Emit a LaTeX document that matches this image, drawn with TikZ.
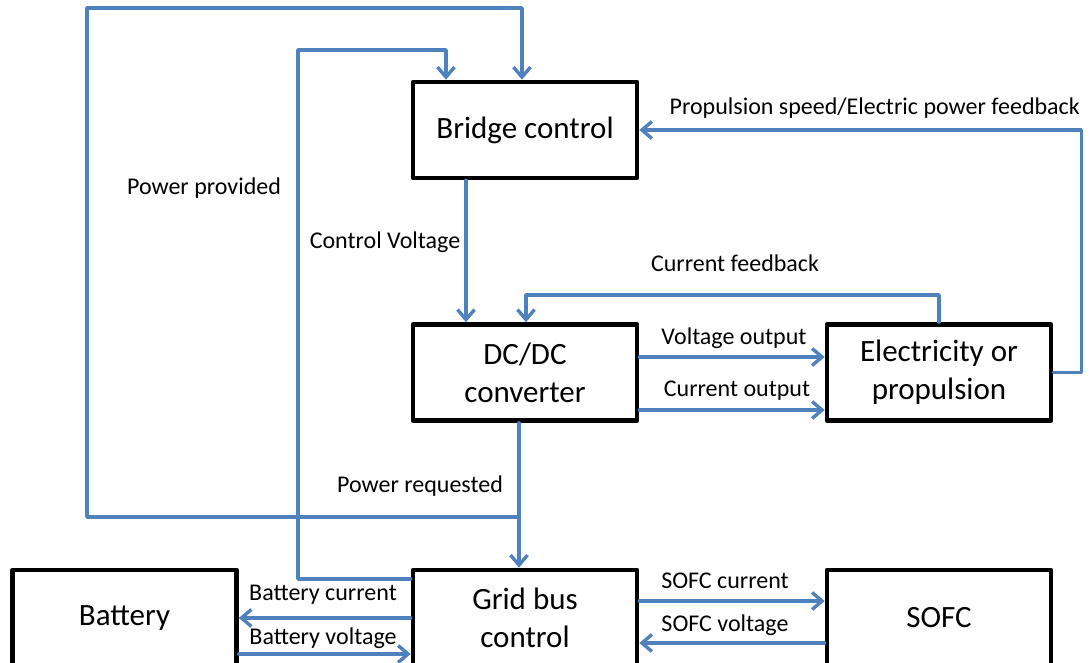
\documentclass[tikz,border=0pt]{standalone}
\usepackage{fontspec}
\setmainfont{Carlito}
\usetikzlibrary{arrows.meta}

\definecolor{flowblue}{RGB}{79,129,189}

\begin{document}
\begin{tikzpicture}[x=1pt,y=-1pt,line cap=round,line join=round,
    block/.style={draw=black,line width=4.6pt,minimum width=224pt,minimum height=96pt,
        inner sep=0pt,align=center,font=\fontsize{31}{38}\selectfont},
    flow/.style={draw=flowblue,line width=3.4pt,-{Straight Barb[length=10pt,width=17pt]}},
    tag/.style={inner sep=0pt,font=\fontsize{24}{29}\selectfont}]
    \useasboundingbox (0,0) rectangle (1090,663);

    % Bloques
    \node[block] (bridge) at (525,130) {Bridge control};
    \node[block] (dcdc) at (525,372.5) {DC/DC\\converter};
    \node[block] (elec) at (939,372.5) {Electricity or\\propulsion};
    \node[block] (grid) at (525,618) {Grid bus\\control};
    \node[block] (battery) at (124.5,618) {Battery};
    \node[block] (sofc) at (939,618) {SOFC};

    % Puntos de los lazos
    \coordinate (tap) at (519,517);
    \coordinate (outerTL) at (87,8);
    \coordinate (innerTL) at (298,50);
    \coordinate (cfb) at (526,295);

    % Lazos de realimentacion
    \draw[flow] (tap) -| (outerTL) -| ([xshift=-3pt]bridge.north);
    \draw[flow] ([yshift=39pt]grid.west) -| (innerTL) -| ([xshift=-79pt]bridge.north);
    \draw[flow] (elec.east) -- ++(28,0) |- (bridge.east);
    \draw[flow] (elec.north) |- (cfb) -- (cfb |- dcdc.north);

    % Senales
    \draw[flow] ([xshift=-59pt]bridge.south) -- ([xshift=-59pt]dcdc.north);
    \draw[flow] ([xshift=-6pt]dcdc.south) -- ([xshift=-6pt]grid.north);
    \draw[flow] ([yshift=15.5pt]dcdc.east) -- ([yshift=15.5pt]elec.west);
    \draw[flow] ([yshift=-37.5pt]dcdc.east) -- ([yshift=-37.5pt]elec.west);
    \draw[flow] (grid.west) -- (grid.west -| battery.east);
    \draw[flow] ([yshift=-36pt]battery.east) -- ([yshift=-36pt]grid.west);
    \draw[flow] ([yshift=17pt]grid.east) -- ([yshift=17pt]sofc.west);
    \draw[flow] ([yshift=-25pt]sofc.west) -- ([yshift=-25pt]grid.east);

    % Etiquetas
    \node[tag] (lpp) at (204,188) {Power provided};
    \node[tag] (lcv) at (385,242) {Control Voltage};
    \node[tag] (lcf) at (735,263) {Current feedback};
    \node[tag,anchor=east] (lps) at (1080,108) {Propulsion speed/Electric power feedback};
    \node[tag] (lvo) at (734,338) {Voltage output};
    \node[tag] (lco) at (737,391) {Current output};
    \node[tag] (lpr) at (420,486) {Power requested};
    \node[tag] (lbc) at (323,595) {Battery current};
    \node[tag] (lbv) at (323,638) {Battery voltage};
    \node[tag] (lsc) at (725,581) {SOFC current};
    \node[tag] (lsv) at (725,625) {SOFC voltage};
\end{tikzpicture}
\end{document}
